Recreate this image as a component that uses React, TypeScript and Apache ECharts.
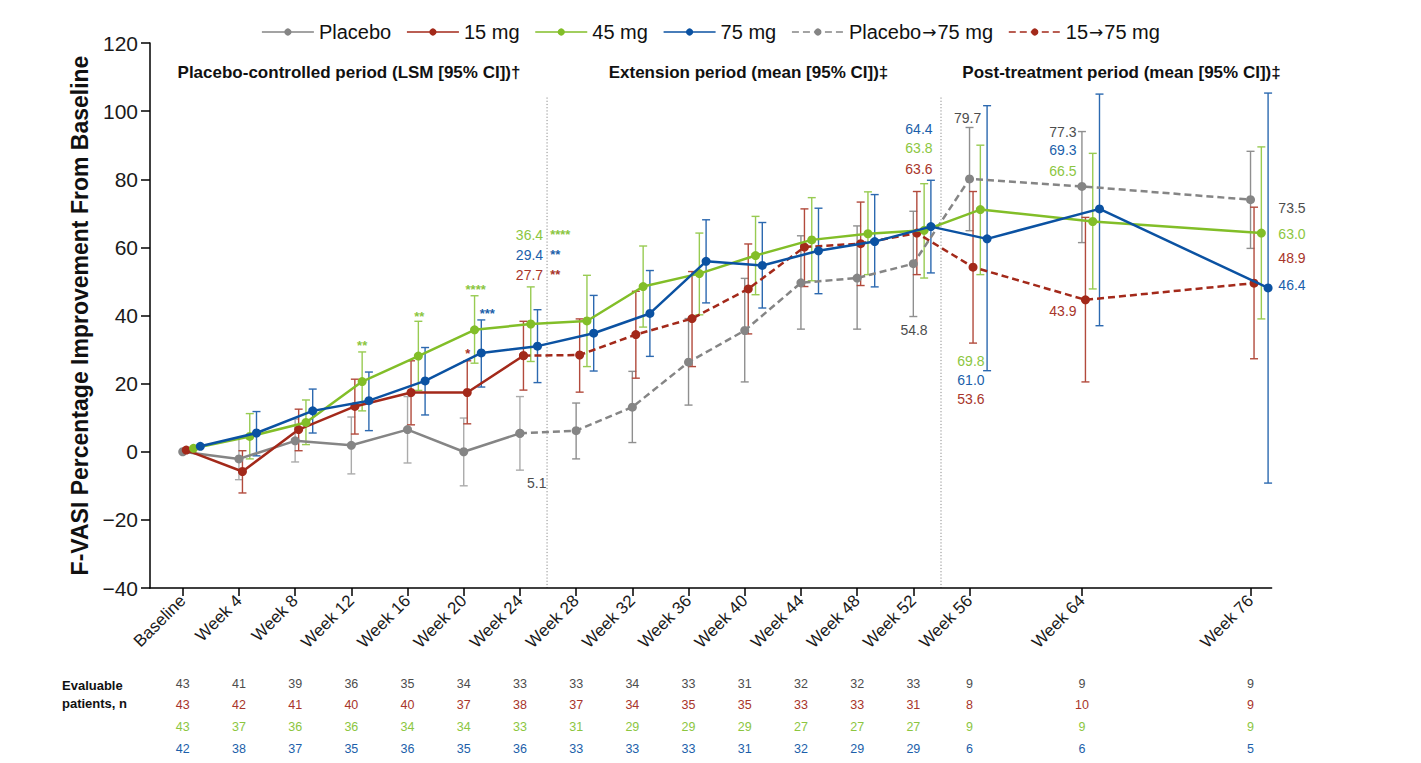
import React, { useEffect, useRef } from "react";
import * as echarts from "echarts";

// ---------- data ----------
const weeks = [0, 4, 8, 12, 16, 20, 24, 28, 32, 36, 40, 44, 48, 52, 56, 64, 76];
const weekLabels = ["Baseline", "Week 4", "Week 8", "Week 12", "Week 16", "Week 20", "Week 24", "Week 28", "Week 32", "Week 36", "Week 40", "Week 44", "Week 48", "Week 52", "Week 56", "Week 64", "Week 76"];

// placebo-controlled period (Baseline..Week 24)
const placeboMean = [0, -2.1, 3.2, 1.9, 6.5, 0, 5.4];
const placeboLow = [null, -8.2, -3.0, -6.5, -3.3, -10.0, -5.4];
const placeboHigh = [null, 4.1, 9.6, 10.2, 16.2, 9.9, 16.2];

const mg15Mean = [0.5, -5.8, 6.5, 13.3, 17.4, 17.4, 28.2];
const mg15Low = [null, -12.1, 0.3, 5.2, 7.9, 8.2, 18.1];
const mg15High = [null, 0.3, 12.5, 21.3, 26.7, 26.7, 38.3];

// extension & post-treatment (Week 24..Week 76)
const placeboTo75Mean = [5.4, 6.2, 13.1, 26.3, 35.6, 49.6, 51.0, 55.2, 80.1, 77.9, 74.0];
const placeboTo75Low = [null, -2.1, 2.7, 13.7, 20.5, 36.0, 36.0, 39.7, 64.9, 61.4, 59.7];
const placeboTo75High = [null, 14.3, 23.6, 39.1, 50.9, 63.4, 66.3, 70.6, 95.2, 94.0, 88.2];

const mg15To75Mean = [28.2, 28.4, 34.4, 39.1, 47.8, 60.1, 61.1, 64.2, 54.2, 44.6, 49.5];
const mg15To75Low = [null, 17.5, 21.6, 25.0, 34.6, 48.5, 48.8, 52.0, 31.9, 20.5, 27.3];
const mg15To75High = [null, 39.0, 47.1, 52.9, 61.0, 71.3, 73.3, 76.4, 76.4, 68.8, 71.8];

// full period
const mg45Mean = [1.0, 4.5, 8.6, 20.6, 28.1, 35.8, 37.5, 38.4, 48.5, 52.3, 57.6, 62.2, 64.0, 65.0, 71.1, 67.6, 64.2];
const mg45Low = [null, -2.1, 2.1, 12.0, 18.0, 26.0, 26.5, 25.0, 36.6, 40.2, 46.1, 50.2, 52.0, 51.0, 52.0, 47.8, 39.0];
const mg45High = [null, 11.2, 15.2, 29.3, 38.3, 45.8, 48.4, 51.8, 60.4, 64.2, 69.1, 74.6, 76.3, 78.7, 90.0, 87.6, 89.5];

const mg75Mean = [1.6, 5.5, 12.0, 15.0, 20.8, 29.0, 31.0, 34.8, 40.6, 55.9, 54.7, 59.0, 61.7, 66.1, 62.5, 71.3, 48.1];
const mg75Low = [null, -1.2, 5.5, 6.2, 10.8, 19.0, 20.3, 23.7, 28.0, 43.7, 42.2, 46.4, 48.4, 52.5, 23.8, 37.0, -9.2];
const mg75High = [null, 11.8, 18.4, 23.4, 30.6, 38.7, 41.7, 45.9, 53.2, 68.1, 67.3, 71.5, 75.5, 79.7, 101.6, 105.0, 105.3];

// evaluable patients
const nPlacebo = [43, 41, 39, 36, 35, 34, 33, 33, 34, 33, 31, 32, 32, 33, 9, 9, 9];
const n15 = [43, 42, 41, 40, 40, 37, 38, 37, 34, 35, 35, 33, 33, 31, 8, 10, 9];
const n45 = [43, 37, 36, 36, 34, 34, 33, 31, 29, 29, 29, 27, 27, 27, 9, 9, 9];
const n75 = [42, 38, 37, 35, 36, 35, 36, 33, 33, 33, 31, 32, 29, 29, 6, 6, 5];

const legendNames = ["Placebo", "15 mg", "45 mg", "75 mg", "Placebo→75 mg", "15→75 mg"];

// value labels: [text, week, value, colorKey, align]
const valueLabels: [string, number, number, string, string][] = [
  ["36.4", 25.65, 63.7, "g", "right"],
  ["29.4", 25.65, 57.8, "b", "right"],
  ["27.7", 25.65, 52.0, "r", "right"],
  ["5.1", 25.2, -9.1, "k", "center"],
  ["54.8", 52.05, 35.8, "k", "center"],
  ["64.4", 52.4, 94.8, "b", "center"],
  ["63.8", 52.4, 89.2, "g", "center"],
  ["63.6", 52.4, 83.1, "r", "center"],
  ["79.7", 55.86, 98.0, "k", "center"],
  ["69.8", 56.1, 26.7, "g", "center"],
  ["61.0", 56.1, 21.1, "b", "center"],
  ["53.6", 56.1, 15.6, "r", "center"],
  ["77.3", 62.65, 94.0, "k", "center"],
  ["69.3", 62.65, 88.5, "b", "center"],
  ["66.5", 62.65, 82.5, "g", "center"],
  ["43.9", 62.65, 41.4, "r", "center"],
  ["73.5", 78.95, 71.6, "k", "center"],
  ["63.0", 78.95, 64.0, "g", "center"],
  ["48.9", 78.95, 57.0, "r", "center"],
  ["46.4", 78.95, 49.0, "b", "center"],
];
// significance stars: [text, week, value, colorKey, align]
const starLabels: [string, number, number, string, string][] = [
  ["****", 26.15, 64.6, "g", "left"],
  ["**", 26.15, 58.7, "b", "left"],
  ["**", 26.15, 52.8, "r", "left"],
  ["**", 12.77, 32.0, "g", "center"],
  ["**", 16.83, 40.5, "g", "center"],
  ["****", 20.85, 48.5, "g", "center"],
  ["***", 21.68, 41.4, "b", "center"],
  ["*", 20.28, 29.7, "r", "center"],
];

const periodTitles = ["Placebo-controlled period (LSM [95% CI])†", "Extension period (mean [95% CI])‡", "Post-treatment period (mean [95% CI])‡"];

// ---------- styles ----------
const C = {
  gray: "#858585",
  red: "#A3291A",
  green: "#82BE28",
  blue: "#0B52A2",
};
const TXT: Record<string, string> = { k: "#4d4d4d", r: "#A8352A", g: "#8CC63F", b: "#1C5FAA" };
const FONT = "Arial, 'Liberation Sans', Helvetica, sans-serif";
const OFF = { placebo: 0, mg15: 0.25, mg45: 0.77, mg75: 1.25 };

function pts(startIdx: number, vals: (number | null)[], off: number) {
  const out: number[][] = [];
  vals.forEach((v, i) => {
    if (v !== null && v !== undefined) out.push([weeks[startIdx + i] + off, v]);
  });
  return out;
}
function bars(startIdx: number, lo: (number | null)[], hi: (number | null)[], off: number) {
  const out: number[][] = [];
  lo.forEach((l, i) => {
    const h = hi[i];
    if (l !== null && h !== null && l !== undefined && h !== undefined) out.push([weeks[startIdx + i] + off, l, h]);
  });
  return out;
}

function lineSeries(name: string, data: number[][], color: string, dashed: boolean, z: number) {
  return {
    type: "line",
    name,
    data,
    symbol: "circle",
    symbolSize: 9,
    showSymbol: true,
    z,
    itemStyle: { color },
    lineStyle: { color, width: 2.5, type: dashed ? [7, 4] : "solid" },
    emphasis: { disabled: true },
  };
}

function errSeries(id: string, data: number[][], color: string) {
  return {
    type: "custom",
    name: id,
    data,
    z: 1,
    silent: true,
    clip: false,
    encode: { x: 0, y: [1, 2] },
    renderItem: (params: any, api: any) => {
      const x = api.value(0);
      const p1 = api.coord([x, api.value(1)]);
      const p2 = api.coord([x, api.value(2)]);
      const w = 4;
      const st = { stroke: color, lineWidth: 1.4 };
      return {
        type: "group",
        children: [
          { type: "line", shape: { x1: p1[0], y1: p1[1], x2: p2[0], y2: p2[1] }, style: st },
          { type: "line", shape: { x1: p1[0] - w, y1: p1[1], x2: p1[0] + w, y2: p1[1] }, style: st },
          { type: "line", shape: { x1: p2[0] - w, y1: p2[1], x2: p2[0] + w, y2: p2[1] }, style: st },
        ],
      };
    },
  };
}

export default function App() {
  const ref = useRef<HTMLDivElement>(null);

  useEffect(() => {
    document.body.style.margin = "0";
    const chart = echarts.init(ref.current!, null, { renderer: "svg" });

    const option: any = {
      animation: false,
      textStyle: { fontFamily: FONT },
      grid: { left: 150, right: 149.4, top: 43, bottom: 175, containLabel: false },
      legend: {
        data: legendNames,
        top: 17,
        left: "center",
        itemWidth: 52,
        itemHeight: 9,
        itemGap: 15,
        textStyle: {
          fontSize: 20,
          color: "#111",
          fontFamily: FONT,
          rich: {
            t: { fontSize: 20, color: "#111", fontFamily: FONT },
            arr: { fontSize: 17, color: "#111", fontFamily: "'DejaVu Sans', sans-serif", padding: [0, 1, 0, 1] },
          },
        },
        formatter: (name: string) =>
          name
            .split("→")
            .map((s) => (s ? "{t|" + s + "}" : ""))
            .join("{arr|→}"),
        lineStyle: { width: 1.5 },
        selectedMode: false,
      },
      xAxis: {
        type: "value",
        min: -2.33,
        max: 77.5,
        axisLine: { show: true, onZero: false, lineStyle: { color: "#000", width: 1.5 } },
        axisTick: { show: true, customValues: weeks, length: 8, lineStyle: { color: "#000", width: 1.5 } },
        axisLabel: {
          customValues: weeks,
          rotate: 45,
          margin: 10,
          fontSize: 17,
          color: "#1a1a1a",
          fontFamily: FONT,
          formatter: (v: number) => weekLabels[weeks.indexOf(v)] ?? "",
        },
        splitLine: { show: false },
      },
      yAxis: {
        type: "value",
        min: -40,
        max: 120,
        interval: 20,
        name: "F-VASI Percentage Improvement From Baseline",
        nameLocation: "middle",
        nameGap: 42,
        nameTextStyle: { fontSize: 23, fontWeight: "bold", color: "#111", fontFamily: FONT },
        axisLine: { show: true, onZero: false, lineStyle: { color: "#000", width: 1.5 } },
        axisTick: { show: true, length: 9, lineStyle: { color: "#000", width: 1.5 } },
        axisLabel: {
          fontSize: 21,
          color: "#1a1a1a",
          margin: 12,
          fontFamily: FONT,
          formatter: (v: number) => (v < 0 ? "\u2212" + Math.abs(v) : String(v)),
        },
        splitLine: { show: false },
      },
      series: [
        errSeries("eb-placebo", bars(0, placeboLow, placeboHigh, OFF.placebo), "#ababab"),
        errSeries("eb-p75", bars(6, placeboTo75Low, placeboTo75High, OFF.placebo), "#8f8f8f"),
        errSeries("eb-15", bars(0, mg15Low, mg15High, OFF.mg15), "#B24A3C"),
        errSeries("eb-1575", bars(6, mg15To75Low, mg15To75High, OFF.mg15), "#B24A3C"),
        errSeries("eb-45", bars(0, mg45Low, mg45High, OFF.mg45), "#98CB52"),
        errSeries("eb-75", bars(0, mg75Low, mg75High, OFF.mg75), "#2C69B0"),
        lineSeries("Placebo", pts(0, placeboMean, OFF.placebo), C.gray, false, 3),
        lineSeries("15 mg", pts(0, mg15Mean, OFF.mg15), C.red, false, 4),
        lineSeries("45 mg", pts(0, mg45Mean, OFF.mg45), C.green, false, 5),
        lineSeries("75 mg", pts(0, mg75Mean, OFF.mg75), C.blue, false, 6),
        lineSeries("Placebo→75 mg", pts(6, placeboTo75Mean, OFF.placebo), C.gray, true, 3),
        lineSeries("15→75 mg", pts(6, mg15To75Mean, OFF.mg15), C.red, true, 4),
      ],
    };
    chart.setOption(option);

    const px = (x: number, y: number) => chart.convertToPixel({ gridIndex: 0 } as any, [x, y]) as number[];
    const g: any[] = [];

    // period divider lines
    [25.93, 53.97].forEach((w) => {
      const a = px(w, 104);
      const b = px(w, -40);
      g.push({
        type: "line",
        shape: { x1: a[0], y1: a[1], x2: b[0], y2: b[1] },
        style: { stroke: "#8a8a8a", lineWidth: 1, lineDash: [1.2, 2] },
        silent: true,
      });
    });

    // period titles
    const titleX = [349, 748.5, 1121.5];
    periodTitles.forEach((t, i) => {
      g.push({
        type: "text",
        x: titleX[i],
        y: 72,
        style: { text: t, fontSize: 17, fontWeight: "bold", fontFamily: FONT, fill: "#111", textAlign: "center", textVerticalAlign: "middle" },
      });
    });

    valueLabels.forEach(([t, w, v, c, al]) => {
      const p = px(w, v);
      g.push({
        type: "text",
        x: p[0],
        y: p[1],
        style: { text: t, fontSize: 14, fontFamily: FONT, fill: TXT[c], textAlign: al, textVerticalAlign: "middle" },
      });
    });
    starLabels.forEach(([t, w, v, c, al]) => {
      const p = px(w, v);
      g.push({
        type: "text",
        x: p[0],
        y: p[1] + 3,
        style: { text: t, fontSize: 13, fontWeight: "bold", fontFamily: FONT, fill: TXT[c], textAlign: al, textVerticalAlign: "middle" },
      });
    });

    // evaluable patients table
    g.push({
      type: "text",
      x: 62,
      y: 685,
      style: { text: "Evaluable", fontSize: 13, fontWeight: "bold", fontFamily: FONT, fill: "#111", textAlign: "left", textVerticalAlign: "middle" },
    });
    g.push({
      type: "text",
      x: 62,
      y: 703,
      style: { text: "patients, n", fontSize: 13, fontWeight: "bold", fontFamily: FONT, fill: "#111", textAlign: "left", textVerticalAlign: "middle" },
    });
    const rows: [number[], string][] = [
      [nPlacebo, "k"],
      [n15, "r"],
      [n45, "g"],
      [n75, "b"],
    ];
    const rowY = [684, 705, 727, 749];
    rows.forEach(([arr, c], r) => {
      arr.forEach((n, i) => {
        const p = px(weeks[i], 0);
        g.push({
          type: "text",
          x: p[0],
          y: rowY[r],
          style: { text: String(n), fontSize: 12.5, fontFamily: FONT, fill: TXT[c], textAlign: "center", textVerticalAlign: "middle" },
        });
      });
    });

    chart.setOption({ graphic: g });

    return () => chart.dispose();
  }, []);

  return <div ref={ref} style={{ width: 1421, height: 763 }} />;
}
